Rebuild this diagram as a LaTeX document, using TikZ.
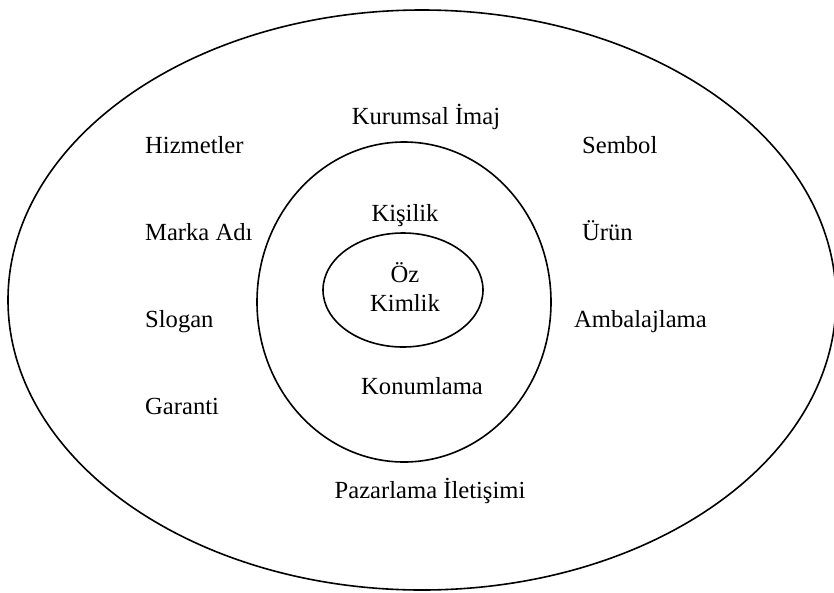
\documentclass[tikz,border=0pt]{standalone}
\usepackage{fontspec}
\setmainfont{Liberation Serif}
\usetikzlibrary{shapes.geometric}
\begin{document}
\begin{tikzpicture}[x=1pt,y=-1pt,
  ring/.style={draw, ellipse, line width=1.6pt, inner sep=0pt},
  lbl/.style={font=\fontsize{24.6}{28}\selectfont, inner sep=0pt}]
\useasboundingbox (0,0) rectangle (834,592);
% three nested rings
\node[ring, minimum width=828, minimum height=580] (outer) at (422,300) {};
\node[ring, minimum width=294, minimum height=320] (middle) at (404,302) {};
\node[ring, minimum width=160, minimum height=114] (core) at (403,290) {};
% core
\node[lbl, anchor=base] (oz) at (405,282) {Öz};
\node[lbl, anchor=base] (kimlik) at (405,311) {Kimlik};
% middle ring
\node[lbl, anchor=base] (kisilik) at (405,221) {Kişilik};
\node[lbl, anchor=base] (konum) at (422,394) {Konumlama};
% outer ring, top and bottom
\node[lbl, anchor=base] (imaj) at (426,124) {Kurumsal İmaj};
\node[lbl, anchor=base] (iletisim) at (430,498) {Pazarlama İletişimi};
% outer ring, left column
\node[lbl, anchor=base west] (hizmet) at (145,153) {Hizmetler};
\node[lbl, anchor=base west] (marka) at (145,240) {Marka Adı};
\node[lbl, anchor=base west] (slogan) at (145,327) {Slogan};
\node[lbl, anchor=base west] (garanti) at (145,414) {Garanti};
% outer ring, right column
\node[lbl, anchor=base west] (sembol) at (582,153) {Sembol};
\node[lbl, anchor=base west] (urun) at (582,240) {Ürün};
\node[lbl, anchor=base west] (ambalaj) at (574,327) {Ambalajlama};
\end{tikzpicture}
\end{document}
